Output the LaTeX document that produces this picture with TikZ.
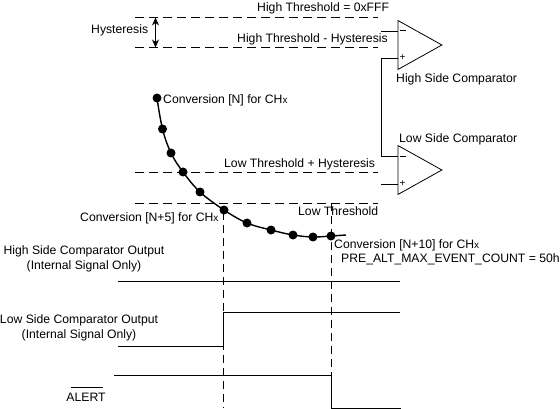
\documentclass[tikz,border=0pt]{standalone}
\usepackage{fontspec}
\setmainfont{Liberation Sans}
\usetikzlibrary{arrows.meta,shapes.geometric}
\newcommand{\chx}{CH{\fontsize{10}{10}\selectfont x}}

\begin{document}
\begin{tikzpicture}[
    x=1pt, y=-1pt,
    lbl/.style={font=\fontsize{12.2}{14.5}\selectfont, inner sep=0pt, anchor=west},
    lblc/.style={font=\fontsize{12.2}{15}\selectfont, inner sep=0pt, align=center},
    thr/.style={draw, line width=1pt, dash pattern=on 9pt off 5pt},
    guide/.style={draw, line width=1pt, dash pattern=on 8pt off 5pt},
    sig/.style={draw, line width=1pt},
    comp/.style={draw, line width=0.8pt, isosceles triangle, isosceles triangle stretches, shape border rotate=0, minimum width=49pt, minimum height=44pt, inner sep=0pt, anchor=lower side},
    dot/.style={circle, fill=black, inner sep=0pt, minimum size=9pt},
    sgn/.style={font=\fontsize{10}{10}\selectfont, inner sep=0pt},
]
\useasboundingbox (0,0) rectangle (560,409);

% threshold levels
\foreach \nm/\yy in {hi/17.5, hh/47.5, lh/172.5, lo/203.5} {
  \coordinate (\nm a) at (135,\yy);
  \coordinate (\nm b) at (378,\yy);
  \path[thr] (\nm a) -- (\nm b);
}
\node[lbl] (thrhi) at (257,8.7) {High Threshold = 0xFFF};
\node[lbl] (thrhh) at (237,39.7) {High Threshold - Hysteresis};
\node[lbl] (thrlh) at (224,164.7) {Low Threshold + Hysteresis};
\node[lbl] (thrlo) at (298,210.7) {Low Threshold};
\node[lbl] (hyst) at (91,30.7) {Hysteresis};
\coordinate (hysttop) at (155.5,17.5);
\coordinate (hystbot) at (155.5,47.5);
\draw[{Stealth[length=8pt,width=7pt]}-{Stealth[length=8pt,width=7pt]}, line width=1pt] (hysttop) -- (hystbot);

% comparators
\node[comp] (hcomp) at (397.5,45) {};
\node[comp] (lcomp) at (397.5,170) {};
\node[lbl] (hcname) at (396,79.7) {High Side Comparator};
\node[lbl] (lcname) at (399,139.7) {Low Side Comparator};
\node[sgn] (hminus) at (402.5,30.5) {\rule{6pt}{0.8pt}};
\node[sgn] (hplus) at (402.5,58) {+};
\node[sgn] (lminus) at (402.5,156) {\rule{6pt}{0.8pt}};
\node[sgn] (lplus) at (402.5,183.5) {+};
\coordinate (hin) at (381,31.5);
\coordinate (hfb) at (381.5,58.5);
\coordinate (lfb) at (381.5,156.5);
\coordinate (lin) at (381,184.5);
\draw[sig] (hin) -- (hin -| hcomp.lower side);
\draw[sig] (hcomp.lower side |- hfb) -- (hfb) -- (lfb) -- (lcomp.lower side |- lfb);
\draw[sig] (lin) -- (lin -| lcomp.lower side);

% conversions
\foreach \i/\xx/\yy in {0/157/98, 1/162.5/129, 2/171/153, 3/183/172, 4/200/192, 5/224/210, 6/247/223, 7/271/230, 8/293/235, 9/313/237, 10/331/236} {
  \node[dot] (conv\i) at (\xx,\yy) {};
}
\coordinate (convend) at (346,235);
\draw[line width=1.4pt] plot[smooth, tension=0.6] coordinates {(conv0) (conv1) (conv2) (conv3) (conv4) (conv5) (conv6) (conv7) (conv8) (conv9) (conv10) (convend)};
\node[lbl] (convn) at (163,100.7) {Conversion [N] for \chx};
\node[lbl] (convf) at (80,218.7) {Conversion [N+5] for \chx};
\node[lbl] (convt) at (334,245.7) {Conversion [N+10] for \chx};
\node[lbl] (evcount) at (341,259.7) {PRE\_ALT\_MAX\_EVENT\_COUNT = 50h};

% drop lines
\coordinate (dropa) at (223.5,408);
\coordinate (dropd) at (223.5,212);
\coordinate (dropb) at (331.5,408);
\coordinate (dropc) at (331.5,203);
\path[guide] (dropd) -- (dropa);
\path[guide] (dropc) -- (dropb);

% output signals
\node[lblc] (hout) at (84,259.2) {High Side Comparator Output\\(Internal Signal Only)};
\node[lblc] (lout) at (79,328.2) {Low Side Comparator Output\\(Internal Signal Only)};
\node[lblc] (alert) at (86,397) {ALERT};
\coordinate (bara) at (71,387.5);
\coordinate (barb) at (103,387.5);
\draw[line width=0.7pt] (bara) -- (barb);
\coordinate (ha) at (118,281.5);
\coordinate (hb) at (400,281.5);
\coordinate (la) at (118,346.5);
\coordinate (lb) at (223.5,346.5);
\coordinate (lc) at (223.5,312.5);
\coordinate (ld) at (400,312.5);
\coordinate (aa) at (114,375.5);
\coordinate (ab) at (331.5,375.5);
\coordinate (ac) at (331.5,408.5);
\coordinate (ad) at (401,408.5);
\draw[sig] (ha) -- (hb);
\draw[sig] (la) -- (lb) -- (lc) -- (ld);
\draw[sig] (aa) -- (ab) -- (ac) -- (ad);
\end{tikzpicture}
\end{document}
